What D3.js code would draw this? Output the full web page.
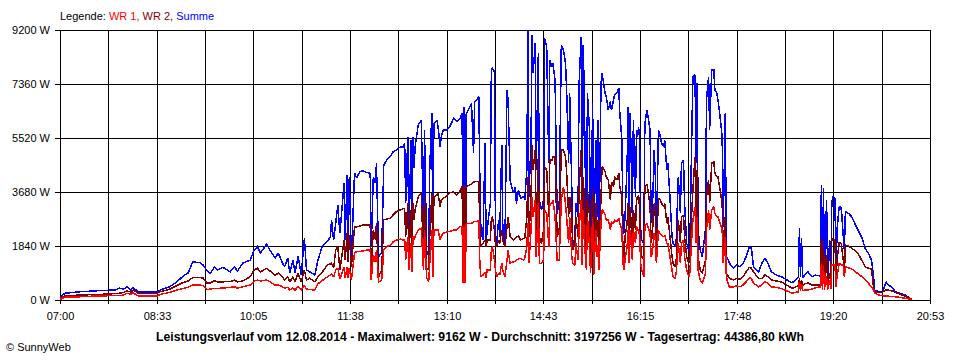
<!DOCTYPE html>
<html><head><meta charset="utf-8">
<script src="https://cdn.jsdelivr.net/npm/d3@7"></script>
<style>
body{margin:0;background:#fff;}
svg{display:block;}
text{font-family:"Liberation Sans",Arial,sans-serif;font-size:11px;fill:#000;}
</style></head><body>
<svg id="chart" width="960" height="360"></svg>
<script>
// minutes after 07:00
const minutes = [
0,5,19,38,53,57,61,64,68,70,
75,93,96,105,112,118,123,127,134,137,
141,144,148,151,156,163,167,170,175,182,
186,189,192,198,201,206,209,213,215,218,
220,223,225,228,231,234,236,239,244,247,
251,256,259,260,262,264,266,268,272,273,
275,276,277,279,282,284,287,290,294,297,
298,300,302,303,305,308,310,313,316,319,
322,326,329,330,331,333,334,336,337,338,
339,340,343,346,347,348,349,351,353,354,
356,357,358,361,362,364,365,367,370,373,
377,380,383,385,386,387,388,389,391,394,
396,397,400,401,402,403,405,407,408,409,
412,413,414,416,417,418,420,421,423,424,
426,428,429,431,434,436,437,439,441,444,
445,447,448,449,451,452,453,455,456,458,
459,461,463,464,466,468,469,471,472,474,
476,478,480,482,484,485,487,488,490,491,
493,494,496,497,499,500,501,502,504,505,
507,508,510,511,513,514,515,516,518,519,
520,522,523,525,527,528,530,531,533,535,
536,538,539,540,541,543,544,545,546,548,
549,551,552,553,554,555,556,557,559,560,
562,563,565,566,567,569,570,571,573,574,
576,578,579,581,582,584,586,587,589,590,
592,594,595,597,598,600,602,603,605,606,
608,609,610,611,613,615,618,619,621,622,
624,626,627,629,630,632,634,635,637,638,
640,641,645,648,651,654,657,660,662,664,
669,672,675,678,681,686,691,696,701,704,
707,708,709,710,711,713,716,720,723,728,
729,730,731,732,733,734,735,737,738,739,
740,742,743,744,746,747,748,750,751,752,
755,758,761,764,768,771,774,777,779,780,
784,787,789,791,793,796,800,804,809,814,
816];

// Summe (W)
const summe = [
110,230,280,320,340,400,370,450,340,430,
270,270,340,450,620,820,930,1300,1270,1190,
990,910,1130,1020,1110,960,1130,990,1260,1360,
1700,1820,1600,1910,1700,1430,1600,1260,1130,1430,
920,1360,920,1480,850,2110,1020,960,850,1360,
1820,1990,2160,2730,2040,2620,3240,2280,3990,2040,
4260,2040,4200,1360,4330,4160,4370,4410,4340,4320,
1820,4200,3990,4660,1480,1600,4600,4770,4880,5050,
5110,5220,5220,5340,3290,5560,1820,5450,1700,5560,
4490,5220,5960,6130,4200,1930,5790,1700,1480,4430,
6360,1820,6020,6130,5900,5220,5560,5790,5790,5900,
6190,6080,6190,6360,1480,6590,1250,6360,6470,6700,
5000,6760,6870,6930,4090,2390,2040,5340,1930,2390,
3290,7840,7890,7780,1930,1930,2730,2160,5280,2390,
1930,7160,6810,4090,3640,3860,3290,3750,3470,3520,
3410,4430,9160,3520,5450,9030,7720,8750,4430,8410,
3410,3070,3410,8920,8630,4660,8180,7950,8070,7500,
2950,3290,8690,8520,8070,7270,4660,7040,3860,1820,
2160,3290,2840,7330,8970,2040,8690,6930,1700,7040,
5790,1700,6700,1700,5450,2840,6130,1700,7380,7720,
7500,7040,6930,6470,6760,6470,6810,6990,7040,7210,
6360,5450,2390,2270,2840,4660,6590,2840,6360,2840,
6130,3520,5790,5560,5900,5450,2390,2040,1930,6020,
6470,6250,5790,2610,2840,5110,4200,2160,5790,5680,
5340,5220,5450,4430,4660,3520,2160,1930,1820,2040,
4200,2950,4660,4770,3290,1930,1700,1700,5790,7610,
7670,4660,7380,2390,1700,1480,2390,6810,7610,5790,
7840,7840,7160,7040,6810,6250,5560,2500,6360,1480,
1360,1250,1080,1190,1130,1250,1480,1810,1760,1130,
960,1250,1420,1250,960,850,790,680,590,680,
790,2440,790,2100,740,850,960,790,850,820,
3920,570,3810,570,2160,3410,790,2040,680,3290,
3520,3470,790,2390,3180,3070,3180,2160,1700,3010,
2950,2840,2610,2390,2100,1760,1590,1360,790,340,
280,280,400,620,510,450,280,230,170,60,
20];

// WR 2 (W)
const wr2 = [
60,140,170,190,220,230,260,310,270,340,
230,230,280,370,490,600,650,760,760,750,
570,580,660,610,620,630,680,620,650,790,
1020,1080,960,1080,990,850,910,790,680,790,
610,790,620,910,610,1020,680,740,620,790,
950,1190,1230,1250,1090,1700,1820,1020,2040,1360,
2270,1290,2210,1130,2500,2490,2520,2560,2560,2560,
1130,2390,2040,2610,790,1020,2730,2760,2780,2900,
3010,3070,3120,3100,2160,3290,1360,3070,1290,3290,
2730,3070,3520,3640,2500,1130,3520,1090,1020,2160,
3640,1250,3510,3580,3640,3180,3410,3480,3520,3650,
3680,3580,3710,3860,1250,3920,1020,3860,3900,3950,
4020,4030,4030,4030,2390,1820,1930,2040,1820,2040,
2040,2730,2840,2390,1840,1840,2040,1930,2390,2040,
1820,2500,2840,2160,2040,2110,2160,2180,2040,2100,
2110,2840,4200,2160,3520,5280,4430,5110,2390,4880,
2160,1930,2390,4540,4430,2840,4770,4770,4880,4880,
2160,2390,5110,5110,4880,4430,2840,3520,2840,1700,
1930,2840,2160,3750,5110,1700,4200,3410,1530,3750,
2840,1480,3860,1360,3290,2160,2730,1360,3520,4540,
4500,4360,4200,4090,3410,4030,3860,4200,4090,4320,
3860,3520,1700,1250,2160,2610,3290,1590,3180,1820,
3070,2390,3520,3410,3580,3070,1820,1480,1360,3860,
3920,3750,3180,1930,2160,3290,2840,1700,3410,3470,
3290,3180,3290,2610,2840,2160,1480,1250,1130,1360,
2730,1930,2840,2900,2160,1480,1250,1360,3070,3750,
4880,2840,4430,1480,1020,910,1360,3520,4090,3290,
4660,4710,4320,4200,4200,3750,3290,1700,2840,910,
790,740,680,740,710,790,960,1110,1090,950,
740,740,850,790,680,650,610,510,400,440,
480,740,450,680,480,550,580,510,510,510,
2100,450,2040,450,1360,1530,570,910,510,2100,
2040,2040,570,1360,1950,1940,1930,1360,850,1870,
1840,1760,1700,1590,1330,1120,1090,1050,400,280,
250,250,310,340,340,310,260,200,140,50,
20];

// WR 1 (W)
const wr1 = [
20,100,110,140,150,150,170,230,200,240,
140,140,190,260,340,390,440,510,510,490,
360,370,400,390,410,430,450,400,450,510,
650,680,650,680,620,510,520,450,410,430,
340,410,340,450,340,510,370,360,340,550,
660,790,850,890,780,1020,1090,720,1130,750,
1130,750,1090,680,1600,1650,1650,1670,1700,1700,
680,1530,1290,1700,610,680,1700,1820,1870,1980,
2040,2070,2040,2080,1360,2160,1020,1930,950,2160,
2040,2160,2390,2440,1700,1020,2390,750,620,1250,
2390,790,2390,2390,2390,2040,2180,2270,2320,2330,
2390,2390,2500,2500,570,2500,570,2610,2610,2610,
2660,2670,2690,2700,1250,790,850,950,740,1020,
1020,1700,1820,1360,1020,790,920,850,1250,1020,
790,1360,1700,1250,1300,1330,1360,1400,1420,1360,
1430,1820,2610,1250,2390,3520,2840,3410,1480,3290,
1250,1250,1360,3070,2950,1820,3290,3290,3410,2840,
1360,1360,3410,3860,3290,2840,1930,2840,1480,1250,
1190,1930,1360,2390,3410,1190,3070,2040,1020,2840,
1820,910,2840,850,2390,1480,1870,1020,2610,3070,
3030,2900,2730,2730,2390,2670,2610,2730,2670,2780,
2610,2390,1250,1020,1360,1820,2390,1250,2390,1360,
2390,1930,2500,2390,2390,2160,1250,1020,790,2500,
2610,2500,2270,1480,1590,2270,2040,1250,2390,2270,
2210,2160,2210,1930,1930,1480,1020,790,740,910,
1930,1250,1930,2040,1480,1020,790,910,2160,2730,
3180,1930,2840,1020,680,570,910,2390,3070,2390,
3070,3180,2950,2840,2840,2610,2390,1250,2160,790,
510,450,450,480,450,510,620,760,720,580,
450,510,620,570,450,430,390,310,230,260,
280,620,320,550,320,340,340,370,410,450,
1250,340,1190,340,790,790,360,680,370,1190,
1190,1190,450,820,1250,1250,1190,1190,790,1130,
1090,1060,990,890,790,680,570,450,340,230,
170,150,140,140,130,120,110,90,60,30,
20];

const xTickLabels = ["07:00","08:33","10:05","11:38","13:10","14:43","16:15","17:48","19:20","20:53"];
const yTickValues = [0,1840,3680,5520,7360,9200];
const seriesNames = ["WR 1", "WR 2", "Summe"];
const seriesColors = ["#ff0000", "#800000", "#0000ff"];
const titleText = "Leistungsverlauf vom 12.08.2014 - Maximalwert: 9162 W - Durchschnitt: 3197256 W - Tagesertrag: 44386,80 kWh";
const totalMinutes = 833; // 07:00 .. 20:53

if (!(minutes.length === summe.length && summe.length === wr1.length && wr1.length === wr2.length)) {
  throw new Error("length mismatch " + minutes.length + " " + summe.length + " " + wr2.length + " " + wr1.length);
}

const svg = d3.select("#chart");
svg.append("rect").attr("width", 960).attr("height", 360).attr("fill", "#fff");

const x = d3.scaleLinear().domain([0, totalMinutes]).range([60, 930]);
const y = d3.scaleLinear().domain([0, 9200]).range([300, 30]);
const xr = x.copy().interpolate(d3.interpolateRound);
const yr = y.copy().interpolate(d3.interpolateRound);

const gridMinutes = d3.range(19).map(i => i * totalMinutes / 18);

// grid
const grid = svg.append("g").attr("shape-rendering", "crispEdges").attr("stroke", "#000").attr("stroke-width", 1);
grid.selectAll("line.v").data(gridMinutes).join("line").attr("class", "v")
  .attr("x1", d => xr(d) + 0.5).attr("x2", d => xr(d) + 0.5)
  .attr("y1", 30).attr("y2", 300.5);
grid.selectAll("line.h").data(yTickValues).join("line").attr("class", "h")
  .attr("x1", 60).attr("x2", 931)
  .attr("y1", d => yr(d) + 0.5).attr("y2", d => yr(d) + 0.5);

// axes
const xAxis = d3.axisBottom(xr).tickValues(gridMinutes).tickSizeInner(4).tickSizeOuter(0).tickPadding(8)
  .tickFormat((d, i) => i % 2 === 0 ? xTickLabels[i / 2] : "");
const gx = svg.append("g").attr("transform", "translate(0,300)").attr("shape-rendering", "crispEdges").call(xAxis);
const yAxis = d3.axisLeft(yr).tickValues(yTickValues).tickSizeInner(5).tickSizeOuter(0).tickPadding(5)
  .tickFormat(d => d + " W");
const gy = svg.append("g").attr("transform", "translate(60,0)").attr("shape-rendering", "crispEdges").call(yAxis);
[gx, gy].forEach(g => {
  g.attr("font-family", null).attr("font-size", null);
  g.selectAll("path,line").attr("stroke", "#000");
  g.selectAll("text").attr("fill", "#000");
});

// series
svg.append("clipPath").attr("id", "plotclip").append("rect")
  .attr("x", 60).attr("y", 29).attr("width", 871).attr("height", 272);
const line = d3.line().x((d, i) => x(minutes[i])).y(d => y(d));
const plot = svg.append("g").attr("clip-path", "url(#plotclip)");
[[summe, seriesColors[2]], [wr2, seriesColors[1]], [wr1, seriesColors[0]]].forEach(([vals, col]) => {
  plot.append("path").datum(vals).attr("d", line)
    .attr("fill", "none").attr("stroke", col).attr("stroke-width", 1.5)
    .attr("shape-rendering", "crispEdges")
    .attr("stroke-linejoin", "miter").attr("stroke-miterlimit", 2);
});

// legend
const leg = svg.append("text").attr("x", 60).attr("y", 20);
leg.append("tspan").text("Legende: ").attr("fill", "#000");
leg.append("tspan").text(seriesNames[0] + ",").attr("fill", seriesColors[0]);
leg.append("tspan").text(" " + seriesNames[1] + ",").attr("fill", seriesColors[1]);
leg.append("tspan").text(" " + seriesNames[2]).attr("fill", seriesColors[2]);

// title
svg.append("text").attr("x", 480).attr("y", 341).attr("text-anchor", "middle")
  .attr("font-weight", "bold").style("font-size", "12px")
  .attr("textLength", 648).attr("lengthAdjust", "spacingAndGlyphs").text(titleText);

// copyright
svg.append("text").attr("x", 6).attr("y", 351).text("\u00A9 SunnyWeb");
</script>
</body></html>
